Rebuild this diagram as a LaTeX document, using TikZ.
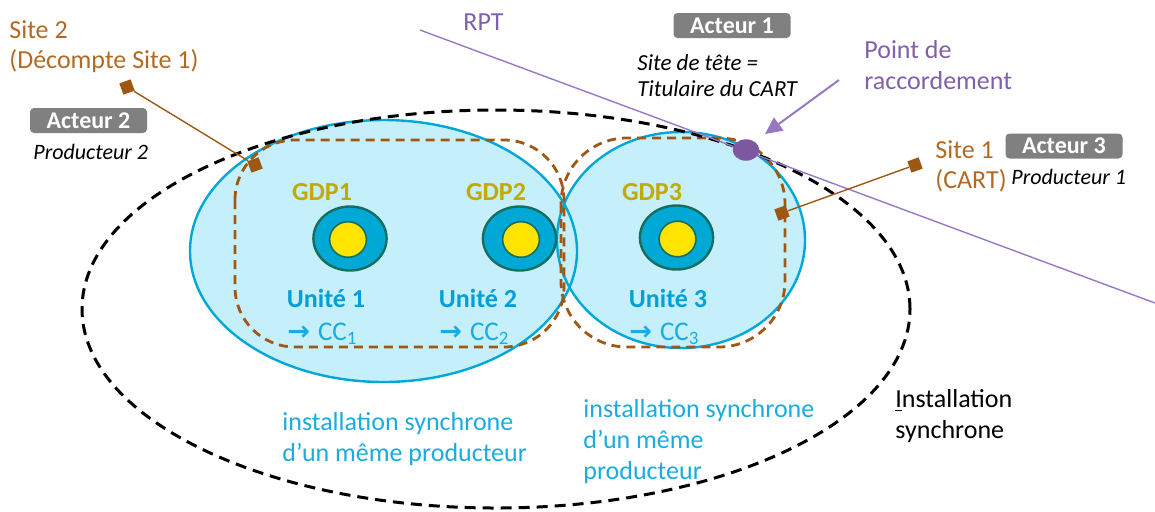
\documentclass[tikz,border=0pt]{standalone}
\usepackage{fontspec}
\setmainfont{Carlito}
\newfontfamily\symfont{DejaVu Sans}
\usetikzlibrary{arrows.meta,shapes.geometric}
\definecolor{brownT}{RGB}{180,105,35}
\definecolor{brownL}{RGB}{158,88,20}
\definecolor{purpleT}{RGB}{128,96,168}
\definecolor{purpleL}{RGB}{150,120,195}
\definecolor{purpleD}{RGB}{125,88,160}
\definecolor{grayBox}{RGB}{128,128,128}
\definecolor{cyanT}{RGB}{25,172,222}
\definecolor{cyanB}{RGB}{0,160,215}
\definecolor{goldT}{RGB}{195,170,0}
\definecolor{ellFill}{RGB}{198,239,252}
\definecolor{ellLine}{RGB}{0,168,216}
\definecolor{gdpOut}{RGB}{0,168,214}
\definecolor{gdpBorder}{RGB}{22,110,95}
\definecolor{gdpIn}{RGB}{255,228,0}
\begin{document}
\begin{tikzpicture}[x=0.5pt,y=-0.5pt,
  acteur/.style={fill=grayBox,rounded corners=2pt,text=white,font=\fontsize{12}{14}\selectfont\bfseries,minimum width=58.5pt,minimum height=12.5pt,inner sep=0pt},
  txt/.style={inner sep=0pt,align=left},
  gdplab/.style={inner sep=0pt,text=goldT,font=\fontsize{13}{15}\selectfont\bfseries},
  unitlab/.style={inner sep=0pt,text=cyanB,font=\fontsize{13}{15}\selectfont\bfseries},
  cclab/.style={inner sep=0pt,text=cyanT,font=\fontsize{13.5}{15}\selectfont},
  gdpo/.style={fill=gdpOut,draw=gdpBorder,line width=1.2pt},
  gdpi/.style={fill=gdpIn,draw=gdpBorder,line width=0.8pt},
  marker/.style={rectangle,fill=brownL,minimum size=6pt,inner sep=0pt,rotate=20},
  conn/.style={draw=brownL,line width=0.7pt},
  bdash/.style={draw=brownL,line width=1.4pt,dash pattern=on 4.5pt off 3pt},
  kdash/.style={draw=black,line width=1.5pt,dash pattern=on 5.5pt off 3.5pt}
]
\useasboundingbox (0,0) rectangle (1155,511);
% unit ellipses
\fill[ellFill] (383.5,251) ellipse [x radius=96.75pt, y radius=65.5pt];
\fill[ellFill] (681,240) ellipse [x radius=62pt, y radius=54pt];
\draw[ellLine,line width=1.2pt] (383.5,251) ellipse [x radius=96.75pt, y radius=65.5pt];
\draw[ellLine,line width=1.2pt] (681,240) ellipse [x radius=62pt, y radius=54pt];
% GDP circles
\filldraw[gdpo] (350,238.5) ellipse [x radius=18.3pt, y radius=16pt];
\filldraw[gdpi] (348,239.5) ellipse [x radius=9.2pt, y radius=8.9pt];
\filldraw[gdpo] (519.5,238.5) ellipse [x radius=18.3pt, y radius=16pt];
\filldraw[gdpi] (521,239.5) ellipse [x radius=9.2pt, y radius=8.9pt];
\filldraw[gdpo] (676.5,237.5) ellipse [x radius=18.3pt, y radius=16pt];
\filldraw[gdpi] (677.5,239) ellipse [x radius=9.2pt, y radius=8.9pt];
% brown dashed sites
\draw[bdash,rounded corners=30pt] (235,140) rectangle (564,347);
\draw[bdash,rounded corners=33pt] (561,138) rectangle (785,347);
% global installation
\draw[kdash] (496,309) ellipse [x radius=207pt, y radius=99.5pt];
% RPT line and connection point
\coordinate (rptA) at (420,30);
\coordinate (rptB) at (1155,303);
\draw[purpleL,line width=0.7pt] (rptA) -- (rptB);
\node[ellipse,fill=purpleD,minimum width=13.3pt,minimum height=10.7pt,inner sep=0pt] (pdr) at (746,150) {};
\coordinate (arrT) at (839,80);
\coordinate (arrH) at (765,134);
\draw[purpleL,line width=1pt,-{Triangle[length=8.5pt,width=8pt]}] (arrT) -- (arrH);
% site connectors
\node[marker] (sq2a) at (127,87) {};
\node[marker] (sq2b) at (255,165) {};
\node[marker] (sq1a) at (915,165) {};
\node[marker] (sq1b) at (782,213) {};
\draw[conn] (sq2a) -- (sq2b);
\draw[conn] (sq1a) -- (sq1b);
% texts
\node[txt,anchor=north west,text=brownT,font=\fontsize{13}{15}\selectfont] (site2) at (9,20) {Site 2\\(Décompte Site 1)};
\node[acteur] (act2) at (88.5,120.5) {Acteur 2};
\node[txt,anchor=base west,font=\fontsize{11}{13}\selectfont\itshape] (prod2) at (33,159) {Producteur 2};
\node[txt,anchor=base west,text=purpleT,font=\fontsize{13}{15}\selectfont] (rpt) at (463,30) {RPT};
\node[acteur] (act1) at (732,25.5) {Acteur 1};
\node[txt,anchor=north west,font=\fontsize{11.5}{13}\selectfont\itshape] (tete) at (637,54) {Site de tête =\\Titulaire du CART};
\node[txt,anchor=north west,text=purpleT,font=\fontsize{13}{15.5}\selectfont] (pdrlab) at (864,40) {Point de\\raccordement};
\node[txt,anchor=north west,text=brownT,font=\fontsize{13}{15}\selectfont] (site1) at (935,140) {Site 1\\(CART)};
\node[acteur] (act3) at (1064,146) {Acteur 3};
\node[txt,anchor=base west,font=\fontsize{11}{13}\selectfont\itshape] (prod1) at (1011,184) {Producteur 1};
\node[gdplab,anchor=base] (gdp1) at (322,200) {GDP1};
\node[gdplab,anchor=base] (gdp2) at (496,200) {GDP2};
\node[gdplab,anchor=base] (gdp3) at (652,200) {GDP3};
\node[unitlab,anchor=base] (u1) at (326,307) {Unité 1};
\node[unitlab,anchor=base] (u2) at (478,307) {Unité 2};
\node[unitlab,anchor=base] (u3) at (668,307) {Unité 3};
\node[cclab,anchor=base west] (cc1) at (287,340) {{\symfont\bfseries →}\hspace{4pt}CC\textsubscript{1}};
\node[cclab,anchor=base west] (cc2) at (439,340) {{\symfont\bfseries →}\hspace{4pt}CC\textsubscript{2}};
\node[cclab,anchor=base west] (cc3) at (629,340) {{\symfont\bfseries →}\hspace{4pt}CC\textsubscript{3}};
\node[txt,anchor=north west,text=cyanT,font=\fontsize{13}{15.5}\selectfont] (inst1) at (282,412) {installation synchrone\\d’un même producteur};
\node[txt,anchor=north west,text=cyanT,font=\fontsize{13}{15.5}\selectfont] (inst2) at (583,399) {installation synchrone\\d’un même\\producteur};
\node[txt,anchor=north west,font=\fontsize{13}{15.5}\selectfont] (instg) at (895,389) {\underline{I}nstallation\\synchrone};
\end{tikzpicture}
\end{document}
